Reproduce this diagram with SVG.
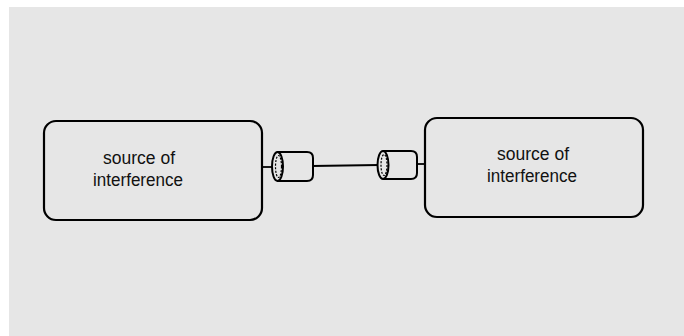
<svg xmlns="http://www.w3.org/2000/svg" width="684" height="336" viewBox="0 0 684 336">
<style>
.box{fill:none;stroke:#000;stroke-width:2.2}
.lbl{font-family:"Liberation Sans",Arial,sans-serif;font-size:18px;fill:#111;text-anchor:middle}
.wire{stroke:#000;stroke-width:1.8;fill:none}
.cyl{fill:#e6e6e6;stroke:#000;stroke-width:2}
.inner{fill:none;stroke:#000;stroke-width:1.2;stroke-dasharray:2 1.5}
</style>
<rect x="0" y="0" width="684" height="336" fill="#ffffff"/>
<rect x="9" y="7" width="675" height="329" fill="#e6e6e6"/>
<g id="node-left">
<rect class="box" x="44" y="121" width="218" height="99" rx="12" ry="12"/>
<text class="lbl" x="139" y="164" textLength="72" lengthAdjust="spacingAndGlyphs">source of</text>
<text class="lbl" x="138" y="186" textLength="90" lengthAdjust="spacingAndGlyphs">interference</text>
</g>
<g id="node-right">
<rect class="box" x="425" y="118" width="218" height="99" rx="12" ry="12"/>
<text class="lbl" x="533" y="160" textLength="72" lengthAdjust="spacingAndGlyphs">source of</text>
<text class="lbl" x="532" y="182" textLength="90" lengthAdjust="spacingAndGlyphs">interference</text>
</g>
<g id="connectors">
<line class="wire" x1="262" y1="167" x2="273" y2="167"/>
<line class="wire" x1="312" y1="166" x2="379" y2="165"/>
<line class="wire" x1="417" y1="164" x2="425" y2="164"/>
<g id="plug-left">
<path class="cyl" d="M277,152 H307 Q313,152 313,158 V175 Q313,181 307,181 H277"/>
<ellipse class="cyl" cx="277.5" cy="166.5" rx="5.5" ry="14.5"/>
<ellipse class="inner" cx="278.5" cy="166.5" rx="3" ry="11"/>
</g>
<g id="plug-right">
<path class="cyl" d="M383,151 H411 Q417,151 417,157 V173 Q417,179 411,179 H383"/>
<ellipse class="cyl" cx="383" cy="165" rx="5.5" ry="14"/>
<ellipse class="inner" cx="384" cy="165" rx="3" ry="10.5"/>
</g>
</g>
</svg>
